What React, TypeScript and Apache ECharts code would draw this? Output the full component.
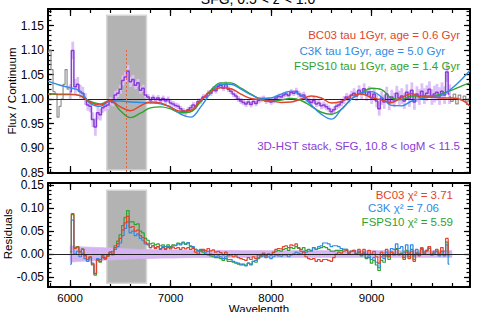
import React, { useEffect, useRef } from "react";
import * as echarts from "echarts";

// ---------- texts ----------
const TITLE = "SFG, 0.5 < z < 1.0";
const X_TITLE = "Wavelength";
const Y_TITLE_TOP = "Flux / Continuum";
const Y_TITLE_BOTTOM = "Residuals";
const MODEL_NAMES = ["BC03 tau 1Gyr, age = 0.6 Gyr", "C3K tau 1Gyr, age = 5.0 Gyr", "FSPS10 tau 1Gyr, age = 1.4 Gyr"];
const CHI_NAMES = ["BC03 χ² = 3.71", "C3K χ² = 7.06", "FSPS10 χ² = 5.59"];
const DATA_NAME = "3D-HST stack, SFG, 10.8 < logM < 11.5";

// ---------- axes ----------
const X_MIN = 5780;
const X_MAX = 9980;
const X_MAJOR = [6000, 7000, 8000, 9000];
const TOP_Y_MIN = 0.849;
const TOP_Y_MAX = 1.1837;
const TOP_Y_MAJOR = [0.85, 0.9, 0.95, 1.0, 1.05, 1.1, 1.15];
const BOT_Y_MIN = -0.072;
const BOT_Y_MAX = 0.155;
const BOT_Y_MAJOR = [-0.05, 0.0, 0.05, 0.1, 0.15];

// ---------- marks ----------
const HALPHA = 6563;
const HALPHA_TOP = 1.1;
const MASK_X = [6365, 6760];
const MASK_TOP_Y = [0.855, 1.171];
const MASK_BOT_Y = [-0.0636, 0.139];

// ---------- data: 3D-HST stack, 25 A bins from 6000 A ----------
const DATA_START = 6000;
const DATA_STEP = 25;
const stackFlux = [
  1.015, 1.099, 1.025, 1.030, 1.015, 1.012, 1.000, 0.988, 0.985, 0.958, 0.943, 0.972,
  0.968, 0.982, 0.985, 0.988, 0.996, 0.993, 1.008, 1.012, 1.020, 1.038, 1.045, 1.057,
  1.035, 1.040, 1.028, 1.033, 1.018, 1.022, 1.008, 1.004, 0.998, 1.003, 0.999, 1.002,
  0.997, 1.001, 0.996, 0.999, 0.992, 0.990, 0.987, 0.985, 0.980, 0.976, 0.973, 0.978,
  0.982, 0.988, 0.985, 0.995, 0.996, 1.004, 1.004, 1.012, 1.012, 1.020, 1.017, 1.026,
  1.028, 1.022, 1.030, 1.020, 1.016, 1.010, 1.006, 1.000, 0.996, 0.993, 0.990, 0.994,
  0.989, 0.995, 0.991, 0.997, 0.999, 1.001, 0.996, 0.998, 0.994, 0.997, 1.002, 1.005,
  1.004, 1.008, 1.010, 1.007, 1.014, 1.012, 1.016, 1.010, 1.006, 1.008, 1.000, 0.996,
  0.993, 0.997, 0.990, 0.992, 0.986, 0.988, 0.984, 0.980, 0.974, 0.978, 0.985, 0.988,
  0.993, 0.998, 1.004, 1.000, 1.008, 1.012, 1.006, 1.018, 1.010, 1.021, 1.008, 1.014,
  1.002, 1.010, 0.996, 0.980, 1.002, 0.994, 1.010, 0.992, 1.004, 0.998, 1.012, 1.002,
  1.006, 0.996, 1.014, 1.000, 1.018, 0.994, 1.010, 1.004, 1.016, 1.006, 1.012, 1.020,
  1.004, 1.010, 1.014, 1.006, 1.016, 1.008, 1.055, 1.010,
];
const stackErr = [
  0.015, 0.018, 0.016, 0.015, 0.014, 0.013, 0.012, 0.012, 0.012, 0.015, 0.018, 0.014,
  0.012, 0.010, 0.010, 0.009, 0.008, 0.008, 0.008, 0.008, 0.009, 0.010, 0.010, 0.012,
  0.010, 0.009, 0.008, 0.008, 0.007, 0.007, 0.006, 0.006, 0.006, 0.006, 0.006, 0.006,
  0.006, 0.006, 0.006, 0.006, 0.006, 0.006, 0.006, 0.006, 0.006, 0.006, 0.006, 0.006,
  0.006, 0.006, 0.006, 0.006, 0.006, 0.006, 0.006, 0.006, 0.006, 0.006, 0.006, 0.006,
  0.006, 0.006, 0.006, 0.006, 0.006, 0.006, 0.006, 0.006, 0.006, 0.006, 0.006, 0.006,
  0.006, 0.006, 0.006, 0.006, 0.006, 0.006, 0.006, 0.006, 0.006, 0.006, 0.006, 0.006,
  0.006, 0.006, 0.006, 0.006, 0.006, 0.006, 0.007, 0.007, 0.007, 0.007, 0.007, 0.007,
  0.007, 0.007, 0.007, 0.007, 0.007, 0.007, 0.007, 0.007, 0.007, 0.007, 0.007, 0.007,
  0.008, 0.008, 0.008, 0.009, 0.009, 0.010, 0.010, 0.010, 0.011, 0.011, 0.012, 0.012,
  0.012, 0.013, 0.013, 0.014, 0.014, 0.014, 0.015, 0.015, 0.015, 0.015, 0.015, 0.015,
  0.016, 0.016, 0.016, 0.016, 0.016, 0.016, 0.016, 0.016, 0.016, 0.016, 0.016, 0.016,
  0.016, 0.017, 0.017, 0.018, 0.018, 0.018, 0.020, 0.020,
];

// masked (gray) parts of the stack
const grayLeftWave = [5780, 5800, 5820, 5840, 5860, 5880, 5900, 5920, 5940, 5960, 5980, 6000];
const grayLeftFlux = [1.095, 1.100, 1.060, 1.015, 1.010, 0.963, 0.985, 1.000, 1.030, 1.060, 1.020, 1.025];
const grayRightWave = [9775, 9800, 9825, 9850, 9875, 9900, 9925, 9950, 9975];
const grayRightFlux = [1.005, 0.995, 1.010, 0.990, 1.008, 0.998, 1.006, 0.994, 1.000];

// ---------- models ----------
const modelWave = [5780, 5800, 5900, 6000, 6100, 6200, 6300, 6400, 6500, 6600, 6700, 6800, 6900, 7000, 7100, 7200, 7300, 7400, 7500, 7600, 7700, 7800, 7900, 8000, 8100, 8200, 8300, 8400, 8500, 8600, 8700, 8800, 8900, 9000, 9100, 9200, 9300, 9400, 9500, 9600, 9700, 9800, 9900, 9980];
const bc03 = [1.010, 1.011, 1.010, 1.010, 1.007, 0.993, 0.988, 0.997, 0.984, 0.976, 0.986, 0.994, 0.992, 0.983, 0.975, 0.977, 0.998, 1.015, 1.023, 1.021, 1.010, 1.001, 0.999, 0.996, 0.993, 0.994, 1.000, 1.006, 1.002, 0.992, 0.995, 1.007, 1.010, 1.003, 0.998, 0.993, 1.003, 1.011, 1.004, 1.004, 1.002, 1.002, 0.998, 0.985];
const c3k = [1.036, 1.035, 1.028, 1.023, 1.016, 0.991, 0.985, 0.996, 0.996, 0.994, 0.993, 0.992, 0.990, 0.984, 0.969, 0.963, 0.984, 1.012, 1.030, 1.030, 1.020, 1.009, 1.001, 1.002, 1.010, 1.016, 1.008, 0.988, 0.969, 0.959, 0.979, 1.000, 1.013, 1.015, 1.004, 0.987, 0.986, 0.996, 1.001, 1.005, 1.008, 1.022, 1.041, 1.058];
const fsps10 = [1.010, 1.010, 1.009, 1.009, 1.007, 0.995, 0.990, 0.997, 0.976, 0.962, 0.971, 0.982, 0.984, 0.980, 0.972, 0.974, 0.995, 1.018, 1.033, 1.033, 1.022, 1.010, 0.999, 0.995, 0.998, 1.001, 0.997, 0.985, 0.973, 0.969, 0.979, 1.000, 1.013, 1.022, 1.019, 1.002, 0.999, 1.006, 1.006, 1.006, 1.011, 1.018, 1.027, 1.033];

// ---------- residuals (same 25 A bins as the stack) ----------
const resBC03 = [
  0.005, 0.088, 0.012, 0.015, 0.004, 0.010, -0.004, -0.012, -0.006, -0.022, -0.043, -0.012,
  -0.016, -0.006, -0.010, -0.004, 0.004, 0.002, 0.014, 0.022, 0.034, 0.052, 0.068, 0.082,
  0.058, 0.060, 0.050, 0.052, 0.040, 0.036, 0.026, 0.022, 0.014, 0.018, 0.012, 0.016,
  0.010, 0.014, 0.010, 0.014, 0.011, 0.015, 0.012, 0.014, 0.010, 0.014, 0.011, 0.014,
  0.010, 0.012, 0.004, 0.000, 0.006, 0.010, 0.008, 0.012, 0.007, 0.009, 0.004, 0.006,
  0.003, -0.002, 0.004, -0.004, -0.002, -0.006, -0.004, -0.008, -0.010, -0.012, -0.014, -0.008,
  -0.012, -0.006, -0.010, -0.002, -0.004, 0.002, -0.004, 0.000, -0.002, 0.004, 0.010, 0.012,
  0.011, 0.016, 0.018, 0.014, 0.020, 0.018, 0.022, 0.014, 0.006, 0.004, -0.006, -0.010,
  -0.012, -0.010, -0.016, -0.012, -0.016, -0.012, -0.012, -0.014, -0.016, -0.008, 0.000, 0.004,
  0.002, 0.006, 0.008, 0.002, 0.006, 0.008, 0.001, 0.010, 0.000, 0.010, 0.000, 0.008,
  0.000, 0.006, -0.006, -0.020, 0.004, -0.004, 0.010, -0.006, 0.004, -0.002, 0.010, -0.002,
  0.000, -0.012, 0.004, -0.010, 0.006, -0.016, 0.002, -0.004, 0.012, 0.002, 0.008, 0.016,
  0.000, 0.006, 0.010, 0.002, 0.014, 0.006, 0.034, 0.004,
];
const resC3K = [
  -0.022, 0.074, 0.000, 0.006, -0.006, 0.002, -0.010, -0.016, -0.008, -0.020, -0.042, -0.010,
  -0.012, -0.003, -0.008, -0.003, 0.003, -0.002, 0.010, 0.016, 0.024, 0.040, 0.056, 0.070,
  0.046, 0.050, 0.040, 0.044, 0.034, 0.030, 0.022, 0.020, 0.014, 0.018, 0.014, 0.016,
  0.012, 0.016, 0.012, 0.016, 0.014, 0.018, 0.018, 0.022, 0.020, 0.024, 0.022, 0.025,
  0.018, 0.016, 0.010, 0.008, 0.010, 0.008, 0.004, 0.006, 0.000, -0.002, -0.006, -0.004,
  -0.006, -0.010, -0.006, -0.012, -0.012, -0.016, -0.018, -0.020, -0.022, -0.024, -0.026, -0.020,
  -0.022, -0.016, -0.014, -0.008, -0.006, -0.004, -0.008, -0.006, -0.010, -0.006, -0.002, -0.004,
  -0.005, -0.002, -0.002, -0.006, -0.002, 0.000, 0.004, 0.002, 0.000, 0.006, 0.004, 0.006,
  0.006, 0.014, 0.010, 0.016, 0.018, 0.024, 0.024, 0.022, 0.016, 0.018, 0.018, 0.016,
  0.012, 0.010, 0.010, 0.002, 0.006, 0.008, 0.000, 0.006, -0.002, 0.004, -0.008, -0.004,
  -0.012, -0.008, -0.018, -0.030, -0.006, -0.010, 0.004, -0.004, 0.012, 0.010, 0.022, 0.012,
  0.016, 0.004, 0.020, 0.002, 0.020, -0.004, 0.010, 0.002, 0.014, 0.004, 0.008, 0.016,
  -0.002, 0.002, 0.006, -0.004, 0.006, -0.004, 0.020, -0.022,
];
const resFSPS10 = [
  0.004, 0.086, 0.014, 0.016, 0.005, 0.011, -0.003, -0.012, -0.007, -0.024, -0.046, -0.014,
  -0.018, -0.008, -0.011, -0.005, 0.004, 0.006, 0.018, 0.028, 0.042, 0.062, 0.080, 0.095,
  0.070, 0.070, 0.064, 0.066, 0.050, 0.046, 0.034, 0.030, 0.022, 0.024, 0.020, 0.022,
  0.018, 0.020, 0.016, 0.020, 0.016, 0.020, 0.019, 0.024, 0.022, 0.026, 0.021, 0.024,
  0.016, 0.014, 0.010, 0.006, 0.008, 0.004, 0.000, -0.002, -0.004, -0.006, -0.008, -0.008,
  -0.010, -0.014, -0.010, -0.016, -0.016, -0.018, -0.020, -0.022, -0.024, -0.022, -0.025, -0.020,
  -0.024, -0.016, -0.018, -0.010, -0.004, -0.001, -0.004, 0.000, -0.002, 0.003, 0.006, 0.008,
  0.006, 0.010, 0.012, 0.008, 0.014, 0.012, 0.016, 0.012, 0.010, 0.014, 0.008, 0.010,
  0.008, 0.014, 0.010, 0.012, 0.014, 0.016, 0.014, 0.010, 0.006, 0.006, 0.008, 0.008,
  0.008, 0.010, 0.010, 0.002, 0.006, 0.006, 0.000, 0.004, -0.004, 0.002, -0.010, -0.008,
  -0.020, -0.014, -0.024, -0.036, -0.014, -0.018, -0.004, -0.012, 0.004, 0.000, 0.012, 0.000,
  0.002, -0.008, 0.008, -0.006, 0.010, -0.012, 0.002, -0.002, 0.010, 0.000, 0.006, 0.012,
  -0.002, 0.002, 0.006, -0.002, 0.006, -0.002, 0.026, -0.004,
];

// residual error band (half width), 100 A grid
const bandWave = [6000, 6100, 6200, 6300, 6400, 6500, 6600, 6700, 6800, 6900, 7000, 7100, 7200, 7300, 7400, 7500, 7600, 7700, 7800, 7900, 8000, 8100, 8200, 8300, 8400, 8500, 8600, 8700, 8800, 8900, 9000, 9100, 9200, 9300, 9400, 9500, 9600, 9700, 9800];
const bandHalf = [0.018, 0.016, 0.015, 0.014, 0.013, 0.012, 0.011, 0.010, 0.010, 0.009, 0.009, 0.0085, 0.008, 0.008, 0.008, 0.008, 0.008, 0.0075, 0.0075, 0.0075, 0.0075, 0.0075, 0.0075, 0.0075, 0.0075, 0.0075, 0.0075, 0.0075, 0.0075, 0.0075, 0.0075, 0.0075, 0.0075, 0.0075, 0.0075, 0.0075, 0.0075, 0.0075, 0.0075];

// ---------- colours ----------
const RED = "#e0452b";
const BLUE = "#2f8ae4";
const GREEN = "#2ea32e";
const PURPLE = "#8a3cd8";
const PURPLE_LIGHT = "#dcc0f6";
const BAND = "#d6b4f4";
const GRAY = "#8f8f8f";
const MASK_FILL = "#b3b3b3";
const FONT = '"Liberation Sans", Arial, Helvetica, sans-serif';

function ticks(a: number, b: number, step: number): number[] {
  const out: number[] = [];
  const n = Math.round((b - a) / step);
  for (let i = 0; i <= n; i++) out.push(Math.round((a + i * step) * 1e6) / 1e6);
  return out;
}

const X_MINOR = ticks(5800, 9800, 200);
const TOP_Y_MINOR = ticks(0.85, 1.18, 0.01);
const BOT_Y_MINOR = ticks(-0.07, 0.15, 0.01);

function fmt2(v: number) {
  const r = Math.abs(v) < 1e-9 ? 0 : v;
  return r.toFixed(2);
}

function xAx(grid: number, pos: string, vals: number[], len: number, line: boolean, labels: boolean) {
  return {
    type: "value",
    gridIndex: grid,
    position: pos,
    min: X_MIN,
    max: X_MAX,
    axisLine: { show: line, onZero: false, lineStyle: { color: "#000", width: 2 } },
    axisTick: { show: true, inside: true, length: len, customValues: vals, lineStyle: { color: "#000", width: 1.2 } },
    axisLabel: labels
      ? { show: true, customValues: X_MAJOR, margin: 5, color: "#000", fontSize: 11.5, fontFamily: FONT, formatter: (v: number) => String(v) }
      : { show: false },
    splitLine: { show: false },
  };
}

function yAx(grid: number, pos: string, min: number, max: number, vals: number[], major: number[] | null, len: number, line: boolean) {
  return {
    type: "value",
    gridIndex: grid,
    position: pos,
    min,
    max,
    axisLine: { show: line, onZero: false, lineStyle: { color: "#000", width: 2 } },
    axisTick: { show: true, inside: true, length: len, customValues: vals, lineStyle: { color: "#000", width: 1.2 } },
    axisLabel: major
      ? { show: true, customValues: major, margin: 4, color: "#000", fontSize: 12, lineHeight: 12, fontFamily: FONT, formatter: (v: number) => fmt2(v) }
      : { show: false },
    splitLine: { show: false },
  };
}

function txt(text: string, x: number, y: number, color: string, size: number, align: string, rotation = 0) {
  return {
    type: "text",
    x,
    y,
    rotation,
    z: 100,
    style: {
      text,
      fill: color,
      font: `${size}px ${FONT}`,
      align,
      verticalAlign: "middle",
      textAlign: align,
      textVerticalAlign: "middle",
    },
  };
}

export default function App() {
  const ref = useRef<HTMLDivElement>(null);

  useEffect(() => {
    if (!ref.current) return;
    const chart = echarts.init(ref.current, null, { renderer: "svg" });

    const dataWave = stackFlux.map((_, i) => DATA_START + i * DATA_STEP);
    const pairs = (xs: number[], ys: number[]) => ys.map((y, i) => [xs[i], y]);

    const errRows = stackFlux.map((v, i) => [dataWave[i], v - stackErr[i], v + stackErr[i]]);
    const bandRows = bandHalf.map((h, i) => [bandWave[i], -h, h]);

    const G = { left: 48, width: 422 };
    const option: any = {
      animation: false,
      backgroundColor: "#ffffff",
      textStyle: { fontFamily: FONT },
      grid: [
        { ...G, top: 9, height: 164 },
        { ...G, top: 9, height: 164 },
        { ...G, top: 183, height: 104 },
        { ...G, top: 183, height: 104 },
      ],
      xAxis: [
        xAx(0, "bottom", X_MAJOR, 7, true, false),
        xAx(0, "top", X_MAJOR, 7, true, false),
        xAx(1, "bottom", X_MINOR, 4, false, false),
        xAx(1, "top", X_MINOR, 4, false, false),
        xAx(2, "bottom", X_MAJOR, 7, true, true),
        xAx(2, "top", X_MAJOR, 7, true, false),
        xAx(3, "bottom", X_MINOR, 4, false, false),
        xAx(3, "top", X_MINOR, 4, false, false),
      ],
      yAxis: [
        yAx(0, "left", TOP_Y_MIN, TOP_Y_MAX, TOP_Y_MAJOR, TOP_Y_MAJOR, 6, true),
        yAx(0, "right", TOP_Y_MIN, TOP_Y_MAX, TOP_Y_MAJOR, null, 6, true),
        yAx(1, "left", TOP_Y_MIN, TOP_Y_MAX, TOP_Y_MINOR, null, 3.5, false),
        yAx(1, "right", TOP_Y_MIN, TOP_Y_MAX, TOP_Y_MINOR, null, 3.5, false),
        yAx(2, "left", BOT_Y_MIN, BOT_Y_MAX, BOT_Y_MAJOR, BOT_Y_MAJOR, 6, true),
        yAx(2, "right", BOT_Y_MIN, BOT_Y_MAX, BOT_Y_MAJOR, null, 6, true),
        yAx(3, "left", BOT_Y_MIN, BOT_Y_MAX, BOT_Y_MINOR, null, 3.5, false),
        yAx(3, "right", BOT_Y_MIN, BOT_Y_MAX, BOT_Y_MINOR, null, 3.5, false),
      ],
      series: [
        // ---- top panel ----
        {
          type: "line", xAxisIndex: 0, yAxisIndex: 0, z: 1, step: "middle", symbol: "none",
          data: pairs(grayLeftWave, grayLeftFlux),
          lineStyle: { color: GRAY, width: 1.2 },
          markArea: {
            silent: true,
            itemStyle: { color: MASK_FILL, borderColor: "#d6d6d6", borderWidth: 1.5 },
            data: [[{ coord: [MASK_X[0], MASK_TOP_Y[1]] }, { coord: [MASK_X[1], MASK_TOP_Y[0]] }]],
          },
        },
        {
          type: "custom", xAxisIndex: 0, yAxisIndex: 0, z: 2, silent: true,
          data: errRows,
          encode: { x: 0, y: [1, 2] },
          renderItem: (params: any, api: any) => {
            const x = api.value(0);
            const a = api.coord([x - DATA_STEP / 2, api.value(1)]);
            const b = api.coord([x + DATA_STEP / 2, api.value(2)]);
            return {
              type: "rect",
              shape: { x: a[0], y: b[1], width: b[0] - a[0] + 0.3, height: a[1] - b[1] },
              style: { fill: PURPLE_LIGHT },
            };
          },
        },
        {
          type: "line", xAxisIndex: 0, yAxisIndex: 0, z: 3, step: "middle", symbol: "none",
          data: pairs(grayRightWave, grayRightFlux),
          lineStyle: { color: GRAY, width: 1.2 },
          markLine: {
            silent: true, symbol: "none", label: { show: false },
            data: [
              { yAxis: 1.0, lineStyle: { color: "#222", width: 1, type: "solid" } },
              [
                { coord: [HALPHA, HALPHA_TOP], lineStyle: { color: "#e8603c", width: 1, type: [2, 2] } },
                { coord: [HALPHA, TOP_Y_MIN] },
              ],
            ],
          },
        },
        {
          type: "line", xAxisIndex: 0, yAxisIndex: 0, z: 4, step: "middle", symbol: "none",
          data: pairs(dataWave, stackFlux), lineStyle: { color: PURPLE, width: 1.5 },
        },
        { type: "line", xAxisIndex: 0, yAxisIndex: 0, z: 5, smooth: 0.4, symbol: "none", data: pairs(modelWave, fsps10), lineStyle: { color: GREEN, width: 1.4 } },
        { type: "line", xAxisIndex: 0, yAxisIndex: 0, z: 5, smooth: 0.4, symbol: "none", data: pairs(modelWave, c3k), lineStyle: { color: BLUE, width: 1.4 } },
        { type: "line", xAxisIndex: 0, yAxisIndex: 0, z: 5, smooth: 0.4, symbol: "none", data: pairs(modelWave, bc03), lineStyle: { color: RED, width: 1.4 } },

        // ---- bottom panel ----
        {
          type: "line", xAxisIndex: 4, yAxisIndex: 4, z: 1, symbol: "none",
          data: pairs(bandWave, bandHalf.map((h) => -h)), lineStyle: { opacity: 0, width: 0 },
          markArea: {
            silent: true,
            itemStyle: { color: MASK_FILL, borderColor: "#d6d6d6", borderWidth: 1.5 },
            data: [[{ coord: [MASK_X[0], MASK_BOT_Y[1]] }, { coord: [MASK_X[1], MASK_BOT_Y[0]] }]],
          },
          markLine: {
            silent: true, symbol: "none", label: { show: false },
            data: [{ yAxis: 0, lineStyle: { color: "#222", width: 1, type: "solid" } }],
          },
        },
        {
          type: "custom", xAxisIndex: 4, yAxisIndex: 4, z: 2, silent: true,
          data: bandRows,
          encode: { x: 0, y: [1, 2] },
          renderItem: (params: any, api: any) => {
            const i = params.dataIndex;
            if (i >= bandRows.length - 1) return null;
            const n = bandRows[i + 1];
            const p1 = api.coord([api.value(0), api.value(1)]);
            const p2 = api.coord([n[0], n[1]]);
            const p3 = api.coord([n[0], n[2]]);
            const p4 = api.coord([api.value(0), api.value(2)]);
            return {
              type: "polygon",
              shape: { points: [p1, p2, p3, p4] },
              style: { fill: BAND, stroke: BAND, lineWidth: 0.6 },
            };
          },
        },
        { type: "line", xAxisIndex: 4, yAxisIndex: 4, z: 3, step: "middle", symbol: "none", data: pairs(dataWave, resFSPS10), lineStyle: { color: GREEN, width: 1.2 } },
        { type: "line", xAxisIndex: 4, yAxisIndex: 4, z: 3, step: "middle", symbol: "none", data: pairs(dataWave, resC3K), lineStyle: { color: BLUE, width: 1.2 } },
        { type: "line", xAxisIndex: 4, yAxisIndex: 4, z: 3, step: "middle", symbol: "none", data: pairs(dataWave, resBC03), lineStyle: { color: RED, width: 1.2 } },
      ],
      graphic: [
        txt(TITLE, 258, -1, "#000", 14, "center"),
        txt(X_TITLE, 259, 308.5, "#000", 11.5, "center"),
        txt(Y_TITLE_TOP, 11.5, 91, "#000", 11.5, "center", Math.PI / 2),
        txt(Y_TITLE_BOTTOM, 7.5, 234, "#000", 11.5, "center", Math.PI / 2),
        txt(MODEL_NAMES[0], 460, 34.5, RED, 11.5, "right"),
        txt(MODEL_NAMES[1], 445, 50.5, BLUE, 11.5, "right"),
        txt(MODEL_NAMES[2], 460, 66, GREEN, 11.5, "right"),
        txt(DATA_NAME, 460, 146, PURPLE, 11.5, "right"),
        txt(CHI_NAMES[0], 453, 194.5, RED, 11.5, "right"),
        txt(CHI_NAMES[1], 439, 207.5, BLUE, 11.5, "right"),
        txt(CHI_NAMES[2], 453, 221.5, GREEN, 11.5, "right"),
      ],
    };

    chart.setOption(option);
    return () => chart.dispose();
  }, []);

  return (
    <div
      ref={ref}
      style={{ position: "fixed", left: 0, top: 0, width: 480, height: 312, background: "#fff" }}
    />
  );
}
